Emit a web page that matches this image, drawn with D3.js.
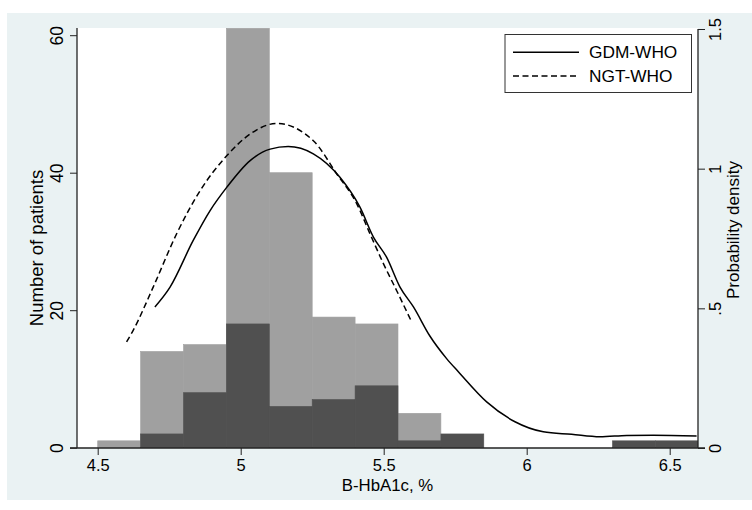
<!DOCTYPE html>
<html><head><meta charset="utf-8">
<script src="https://cdn.jsdelivr.net/npm/d3@7"></script>
<style>body{margin:0;background:#fff}svg{display:block}text{font-family:"Liberation Sans",Arial,Helvetica,sans-serif;fill:#000}</style>
</head><body><svg id="c" width="752" height="510"></svg>
<script>
// ---- data ----
const binWidth = 0.15;
const ngtBins = [4.5, 4.65, 4.8, 4.95, 5.1, 5.25, 5.4, 5.55];
const ngtCounts = [1, 14, 15, 61, 40, 19, 18, 5];
const gdmBins = [4.65, 4.8, 4.95, 5.1, 5.25, 5.4, 5.55, 5.7, 6.3, 6.45];
const gdmCounts = [2, 8, 18, 6, 7, 9, 1, 2, 1, 1];
const gdmDensX = [4.700, 4.753, 4.834, 4.893, 4.951, 5.033, 5.103, 5.166, 5.254, 5.347, 5.417, 5.464, 5.510, 5.557, 5.604, 5.662, 5.720, 5.761, 5.860, 5.959, 6.058, 6.157, 6.256, 6.350, 6.443, 6.594];
const gdmDensY = [0.505, 0.576, 0.743, 0.850, 0.933, 1.029, 1.070, 1.079, 1.053, 0.969, 0.862, 0.755, 0.683, 0.576, 0.505, 0.400, 0.320, 0.273, 0.165, 0.094, 0.058, 0.049, 0.040, 0.045, 0.046, 0.043];
const ngtDensX = [4.601, 4.624, 4.694, 4.776, 4.858, 4.951, 5.033, 5.126, 5.254, 5.336, 5.406, 5.452, 5.499, 5.545, 5.598];
const ngtDensY = [0.380, 0.421, 0.576, 0.767, 0.921, 1.046, 1.124, 1.162, 1.100, 0.981, 0.874, 0.767, 0.660, 0.564, 0.451];
const xTicks = [4.5, 5, 5.5, 6, 6.5];
const xTickLabels = ["4.5", "5", "5.5", "6", "6.5"];
const yLeftTicks = [0, 20, 40, 60];
const yRightTicks = [0, 0.5, 1, 1.5];
const yRightTickLabels = ["0", ".5", "1", "1.5"];
const legendLabels = ["GDM-WHO", "NGT-WHO"];

// ---- layout ----
const svg = d3.select("#c");
const P = {l: 77, r: 698, t: 28, b: 448};
const x = d3.scaleLinear().domain([4.5, 6.5]).range([97.7, 669.7]);
const yL = d3.scaleLinear().domain([0, 60]).range([447.7, 35.2]);
const yR = d3.scaleLinear().domain([0, 1.5]).range([448, 29]);

svg.append("rect").attr("x", 7).attr("y", 13).attr("width", 745).attr("height", 487).attr("fill", "#eaf2f3");
svg.append("rect").attr("x", P.l).attr("y", P.t).attr("width", P.r - P.l).attr("height", P.b - P.t).attr("fill", "#fff");

svg.append("defs").append("clipPath").attr("id", "clip")
  .append("rect").attr("x", P.l).attr("y", P.t).attr("width", P.r - P.l).attr("height", P.b - P.t);

const g = svg.append("g").attr("clip-path", "url(#clip)");

g.selectAll("rect.ngt").data(ngtBins.map((b, i) => ({b, c: ngtCounts[i]}))).join("rect")
  .attr("class", "ngt")
  .attr("x", d => x(d.b)).attr("width", d => x(d.b + binWidth) - x(d.b))
  .attr("y", d => yL(d.c)).attr("height", d => yL(0) - yL(d.c))
  .attr("fill", "#a0a0a0").attr("stroke", "#a0a0a0").attr("stroke-width", 0.6);

g.selectAll("rect.gdm").data(gdmBins.map((b, i) => ({b, c: gdmCounts[i]}))).join("rect")
  .attr("class", "gdm")
  .attr("x", d => x(d.b)).attr("width", d => x(d.b + binWidth) - x(d.b))
  .attr("y", d => yL(d.c)).attr("height", d => yL(0) - yL(d.c))
  .attr("fill", "#505050").attr("stroke", "#505050").attr("stroke-width", 0.6);

const line = d3.line().x(d => x(d[0])).y(d => yR(d[1])).curve(d3.curveMonotoneX);
g.append("path").datum(gdmDensX.map((v, i) => [v, gdmDensY[i]]))
  .attr("d", line).attr("fill", "none").attr("stroke", "#000").attr("stroke-width", 1.5);
g.append("path").datum(ngtDensX.map((v, i) => [v, ngtDensY[i]]))
  .attr("d", line).attr("fill", "none").attr("stroke", "#000").attr("stroke-width", 1.5)
  .attr("stroke-dasharray", "6,3.5");

// ---- axes ----
const axCol = "#222";
const fs = 17;
// x axis
const xa = svg.append("g").attr("transform", `translate(0,${P.b})`)
  .call(d3.axisBottom(x).tickValues(xTicks).tickFormat((d, i) => xTickLabels[i]).tickSize(7).tickPadding(4));
xa.select(".domain").remove();
xa.append("line").attr("x1", 70).attr("x2", 705).attr("stroke", axCol).attr("stroke-width", 1.3);
xa.selectAll(".tick line").attr("stroke", axCol).attr("stroke-width", 1);
xa.selectAll(".tick text").attr("font-size", 16.5).attr("dy", "0.71em").attr("font-family", "Liberation Sans, Arial, sans-serif");

// left axis
const ya = svg.append("g").attr("transform", `translate(${P.l},0)`)
  .call(d3.axisLeft(yL).tickValues(yLeftTicks).tickSize(7).tickPadding(0));
ya.select(".domain").remove();
ya.append("line").attr("y1", P.t).attr("y2", P.b).attr("stroke", axCol).attr("stroke-width", 1.3);
ya.selectAll(".tick line").attr("stroke", axCol);
ya.selectAll(".tick text").attr("font-size", 17.5).attr("font-family", "Liberation Sans, Arial, sans-serif")
  .attr("x", 0).attr("dy", 0).attr("text-anchor", "middle")
  .attr("transform", "translate(-14,0) rotate(-90)");

// right axis
const yra = svg.append("g").attr("transform", `translate(${P.r},0)`)
  .call(d3.axisRight(yR).tickValues(yRightTicks).tickFormat((d, i) => yRightTickLabels[i]).tickSize(7).tickPadding(0));
yra.select(".domain").remove();
yra.append("line").attr("y1", P.t + 1).attr("y2", P.b).attr("stroke", axCol).attr("stroke-width", 1.3);
yra.selectAll(".tick line").attr("stroke", axCol);
yra.selectAll(".tick text").attr("font-size", 16.5).attr("font-family", "Liberation Sans, Arial, sans-serif")
  .attr("x", 0).attr("dy", 0).attr("text-anchor", "middle")
  .attr("transform", "translate(23,0) rotate(-90)");

// titles
svg.append("text").attr("x", (P.l + P.r) / 2).attr("y", 490.5).attr("text-anchor", "middle").attr("font-size", 16.8).text("B-HbA1c, %");
svg.append("text").attr("transform", "translate(42.5,248) rotate(-90)").attr("text-anchor", "middle").attr("font-size", 18.5).text("Number of patients");
svg.append("text").attr("transform", "translate(739,230) rotate(-90)").attr("text-anchor", "middle").attr("font-size", fs).text("Probability density");

// legend
const lg = svg.append("g");
lg.append("rect").attr("x", 505).attr("y", 34.5).attr("width", 186.5).attr("height", 58).attr("fill", "#fff").attr("stroke", "#333").attr("stroke-width", 1);
legendLabels.forEach((lab, i) => {
  const yy = 52.3 + i * 23.7;
  lg.append("line").attr("x1", 513).attr("x2", 579).attr("y1", yy).attr("y2", yy)
    .attr("stroke", "#000").attr("stroke-width", 1.5).attr("stroke-dasharray", i ? "6,3.5" : null);
  lg.append("text").attr("x", 589).attr("y", yy + 6).attr("font-size", 17.3).text(lab);
});
</script></body></html>
